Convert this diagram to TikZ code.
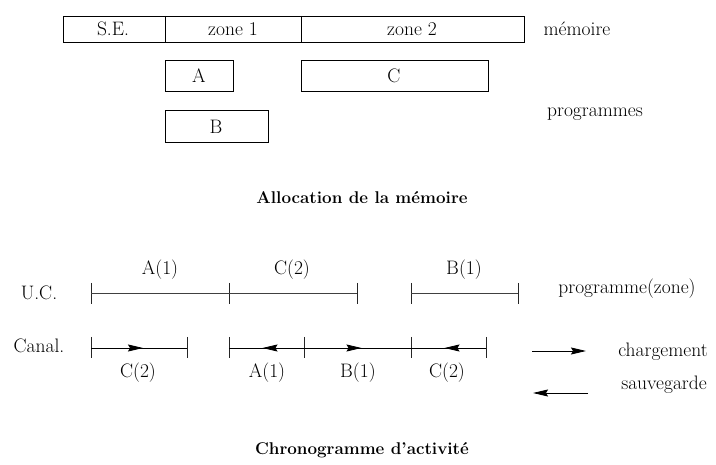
\documentclass[tikz,border=0pt]{standalone}
\usetikzlibrary{arrows.meta,decorations.markings}
\begin{document}
\begin{tikzpicture}[x=1pt,y=-1pt,
  txt/.style={font=\fontsize{19.5}{22}\selectfont, inner sep=0pt},
  ttl/.style={font=\fontsize{17}{20}\selectfont\bfseries, inner sep=0pt},
  box/.style={draw, line width=0.8pt},
  seg/.style={line width=0.7pt, black!75},
  chan/.style={line width=0.8pt, black},
  tick/.style={line width=0.7pt, black!85},
  head/.style={Stealth[length=15pt,width=7pt,inset=2pt]},
  tip/.style={-{Stealth[length=15pt,width=7pt,inset=2pt]}, line width=0.8pt},
  midfwd/.style={chan, postaction={decorate}, decoration={markings,
      mark=at position 0.5 with {\arrow[xshift=4pt]{Stealth[length=15pt,width=7pt,inset=2pt]}}}},
  midbwd/.style={chan, postaction={decorate}, decoration={markings,
      mark=at position 0.5 with {\arrowreversed[xshift=-4pt]{Stealth[length=15pt,width=7pt,inset=2pt]}}}},
]
\useasboundingbox (0,0) rectangle (716,465);

% --- memory layout ---
\draw[box] (63,16) rectangle (524,42);
\draw[box] (165,16) -- (165,42);
\draw[box] (301,16) -- (301,42);
\node[txt] (se) at (113,29) {S.E.};
\node[txt] (z1) at (233,29) {zone 1};
\node[txt] (z2) at (412,29) {zone 2};
\node[txt] (mem) at (577,29) {mémoire};

\draw[box] (165,60) rectangle (233,91);
\node[txt] (pA) at (199,76) {A};
\draw[box] (301,60) rectangle (488,91);
\node[txt] (pC) at (394,76) {C};
\draw[box] (165,110) rectangle (268,142);
\node[txt] (pB) at (216,127) {B};
\node[txt] (prog) at (595,114) {programmes};

\node[ttl] (t1) at (362,198) {Allocation de la mémoire};

% --- activity timeline: CPU ---
\node[txt] (uc) at (39,293) {U.C.};
\foreach \n/\x in {u1/91,u2/229,u3/357,u4/411,u5/518}
  \coordinate (\n) at (\x,293);
\foreach \n in {u1,u2,u3,u4,u5}
  \draw[tick] ([yshift=10pt]\n) -- ([yshift=-11pt]\n);
\draw[seg] (u1) -- (u2);
\draw[seg] (u2) -- (u3);
\draw[seg] (u4) -- (u5);
\node[txt] (la1) at (160,270) {A(1)};
\node[txt] (lc2) at (292,270) {C(2)};
\node[txt] (lb1) at (464,270) {B(1)};
\node[txt] (pz) at (627,289) {programme(zone)};

% --- activity timeline: channel ---
\node[txt] (can) at (39,346) {Canal.};
\foreach \n/\x in {c1/91,c2/187,c3/229,c4/304,c5/411,c6/486}
  \coordinate (\n) at (\x,348);
\foreach \n in {c1,c2,c3,c4,c5,c6}
  \draw[tick] ([yshift=11pt]\n) -- ([yshift=-10pt]\n);
\draw[midfwd] (c1) -- (c2);
\draw[midbwd] (c3) -- (c4);
\draw[midfwd] (c4) -- (c5);
\draw[midbwd] (c5) -- (c6);
\node[txt] (kc2) at (138,373) {C(2)};
\node[txt] (ka1) at (267,373) {A(1)};
\node[txt] (kb1) at (358,373) {B(1)};
\node[txt] (kc2b) at (447,373) {C(2)};

% --- legend ---
\coordinate (lg1) at (532,351);
\coordinate (lg2) at (586,351);
\coordinate (lg3) at (588,393);
\coordinate (lg4) at (533,393);
\draw[tip] (lg1) -- (lg2);
\draw[tip] (lg3) -- (lg4);
\node[txt] (chg) at (663,352) {chargement};
\node[txt] (sav) at (664,385) {sauvegarde};

\node[ttl] (t2) at (362,450) {Chronogramme d'activité};
\end{tikzpicture}
\end{document}
